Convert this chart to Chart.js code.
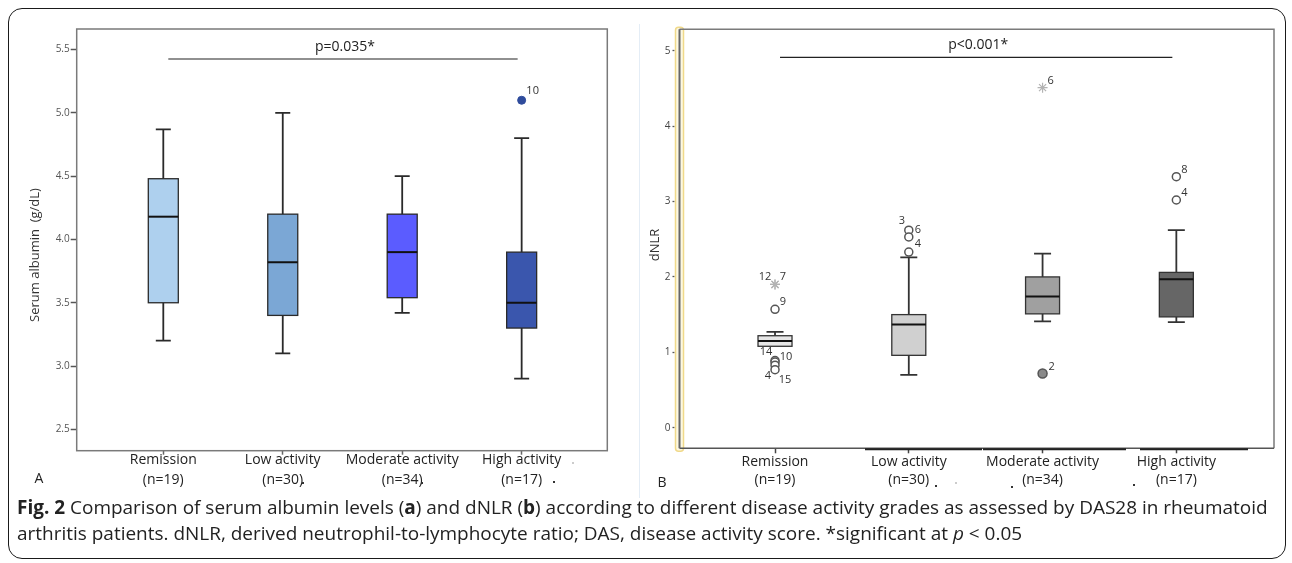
<!DOCTYPE html>
<html>
<head>
<meta charset="utf-8">
<script src="https://cdn.jsdelivr.net/npm/chart.js@4.4.0/dist/chart.umd.min.js"></script>
<style>
  html, body { margin: 0; padding: 0; background: #fff; }
  body { width: 1292px; height: 563px; position: relative; overflow: hidden; font-family: "Open Sans", sans-serif; }
  #frame { position: absolute; left: 8px; top: 8px; width: 1278px; height: 551px; border: 1.5px solid #1a1a1a; border-radius: 14px; box-sizing: border-box; }
  #divider { position: absolute; left: 639px; top: 24px; width: 1px; height: 474px; background: #e4edf6; }
  #leftWrap { position: absolute; left: 0; top: 0; width: 640px; height: 500px; }
  #rightWrap { position: absolute; left: 640px; top: 0; width: 652px; height: 500px; }
  #caption { position: absolute; left: 17px; top: 494px; color: #222; line-height: 26px; white-space: nowrap; font-size: 16px; }
  #caption span { display: inline-block; }
</style>
</head>
<body>
<div id="frame"></div>
<div id="divider"></div>
<div id="leftWrap"><canvas id="albChart" width="640" height="500"></canvas></div>
<div id="rightWrap"><canvas id="dnlrChart" width="652" height="500"></canvas></div>
<div id="caption">
  <div><span id="cap1"><b>Fig. 2</b> Comparison of serum albumin levels (<b>a</b>) and dNLR (<b>b</b>) according to different disease activity grades as assessed by DAS28 in rheumatoid</span></div>
  <div><span>arthritis patients. dNLR, derived neutrophil-to-lymphocyte ratio; DAS, disease activity score. *significant at <i>p</i> &lt; 0.05</span></div>
</div>
<script>
// groups on the x axis
const categories = ['Remission', 'Low activity', 'Moderate activity', 'High activity'];
const groupSizes = ['(n=19)', '(n=30)', '(n=34)', '(n=17)'];

// panel A: serum albumin (g/dL)
const albTicks = [2.5, 3.0, 3.5, 4.0, 4.5, 5.0, 5.5];
const albLow = [3.20, 3.10, 3.42, 2.90];
const albQ1 = [3.50, 3.40, 3.54, 3.30];
const albMedian = [4.18, 3.82, 3.90, 3.50];
const albQ3 = [4.48, 4.20, 4.20, 3.90];
const albHigh = [4.87, 5.00, 4.50, 4.80];
const albOutGroup = [4];
const albOutValue = [5.10];
const albOutId = ['10'];

// panel B: dNLR
const dnlrTicks = [0, 1, 2, 3, 4, 5];
const dnlrLow = [1.08, 0.70, 1.41, 1.40];
const dnlrQ1 = [1.08, 0.96, 1.51, 1.47];
const dnlrMedian = [1.15, 1.37, 1.74, 1.97];
const dnlrQ3 = [1.22, 1.50, 2.00, 2.06];
const dnlrHigh = [1.27, 2.26, 2.31, 2.62];
// outliers drawn as open circles
const dnlrCircleGroup = [1, 1, 1, 1, 1, 2, 2, 2, 4, 4];
const dnlrCircleValue = [1.57, 0.89, 0.87, 0.83, 0.77, 2.62, 2.53, 2.33, 3.33, 3.02];
const dnlrCircleId = ['9', '14', '10', '4', '15', '3', '6', '4', '8', '4'];
// extreme values drawn as stars
const dnlrStarGroup = [1, 1, 3];
const dnlrStarValue = [1.90, 1.90, 4.51];
const dnlrStarId = ['12', '7', '6'];
// filled outlier
const dnlrDotGroup = [3];
const dnlrDotValue = [0.72];
const dnlrDotId = ['2'];

// label offsets (px) for the case numbers, same order as the ids
const albOutOffsets = [[11, -9]];
const dnlrCircleOffsets = [[8, -7], [-9, -9], [11, -5], [-7, 11], [10, 10], [-7, -9], [9, -7], [9, -8], [8, -7], [8, -7]];
const dnlrStarOffsets = [[-10, -8], [8, -8], [8, -7]];
const dnlrDotOffsets = [[9, -7]];

Chart.defaults.font.family = '"Open Sans", sans-serif';
Chart.defaults.animation = false;
Chart.defaults.events = [];

function points(groups, values) {
  return groups.map((g, i) => ({ x: g, y: values[i] }));
}

function boxPlotPlugin(cfg) {
  return {
    id: 'boxPlot',
    beforeDatasetsDraw(chart) {
      const { ctx, chartArea: a, scales: { x, y } } = chart;
      ctx.save();
      cfg.drawFrame(ctx, a, chart);
      cfg.q1.forEach((q1, i) => {
        const cx = x.getPixelForValue(i + 1);
        const pLow = y.getPixelForValue(cfg.low[i]);
        const pQ1 = y.getPixelForValue(q1);
        const pMed = y.getPixelForValue(cfg.median[i]);
        const pQ3 = y.getPixelForValue(cfg.q3[i]);
        const pHigh = y.getPixelForValue(cfg.high[i]);
        const hb = cfg.boxWidth / 2, hc = cfg.capWidth / 2;
        ctx.strokeStyle = cfg.lineColor;
        ctx.lineWidth = cfg.whiskerWidth;
        ctx.beginPath();
        ctx.moveTo(cx, pQ3); ctx.lineTo(cx, pHigh);
        ctx.moveTo(cx - hc, pHigh); ctx.lineTo(cx + hc, pHigh);
        if (pLow - pQ1 > 0.5) {
          ctx.moveTo(cx, pQ1); ctx.lineTo(cx, pLow);
          ctx.moveTo(cx - hc, pLow); ctx.lineTo(cx + hc, pLow);
        }
        ctx.stroke();
        ctx.fillStyle = cfg.fills[i];
        ctx.fillRect(cx - hb, pQ3, 2 * hb, pQ1 - pQ3);
        ctx.lineWidth = cfg.boxBorderWidth;
        ctx.strokeStyle = cfg.lineColor;
        ctx.strokeRect(cx - hb, pQ3, 2 * hb, pQ1 - pQ3);
        ctx.lineWidth = cfg.medianWidth;
        ctx.strokeStyle = '#111';
        ctx.beginPath();
        ctx.moveTo(cx - hb, pMed); ctx.lineTo(cx + hb, pMed);
        ctx.stroke();
      });
      ctx.restore();
    },
    afterDatasetsDraw(chart) {
      const ctx = chart.ctx;
      ctx.save();
      ctx.fillStyle = '#333';
      ctx.font = '11px "Open Sans", sans-serif';
      ctx.textAlign = 'center';
      ctx.textBaseline = 'middle';
      chart.data.datasets.forEach((ds, di) => {
        const meta = chart.getDatasetMeta(di);
        (ds.ids || []).forEach((id, j) => {
          const el = meta.data[j];
          const off = ds.idOffsets[j];
          ctx.fillText(id, el.x + off[0], el.y + off[1]);
        });
      });
      ctx.restore();
    },
    afterDraw(chart) {
      const { ctx, chartArea: a, scales: { x } } = chart;
      ctx.save();
      // significance bar
      const x1 = x.getPixelForValue(1) + 5, x4 = x.getPixelForValue(4) - 4;
      ctx.strokeStyle = '#222';
      ctx.lineWidth = 1.2;
      ctx.beginPath();
      ctx.moveTo(x1, a.top + cfg.barOffset); ctx.lineTo(x4, a.top + cfg.barOffset);
      ctx.stroke();
      ctx.fillStyle = '#222';
      ctx.font = '14px "Open Sans", sans-serif';
      ctx.textAlign = 'center';
      ctx.textBaseline = 'middle';
      ctx.fillText(cfg.pText, (x1 + x4) / 2 + 2, a.top + cfg.barOffset - 12);
      // y title
      ctx.save();
      ctx.translate(cfg.titleX, cfg.titleY);
      ctx.rotate(-Math.PI / 2);
      ctx.font = '13px "Open Sans", sans-serif';
      ctx.fillStyle = '#333';
      ctx.fillText(cfg.title, 0, 0);
      ctx.restore();
      // panel letter
      ctx.font = '14px "Open Sans", sans-serif';
      ctx.fillStyle = '#222';
      ctx.fillText(cfg.letter, cfg.letterX, cfg.letterY);
      // scan specks
      cfg.specks.forEach(s => {
        ctx.fillStyle = s[2];
        ctx.fillRect(s[0] - 1, s[1] - 1, 2, 2);
      });
      ctx.restore();
    }
  };
}

function xLabel(v) {
  const i = Math.round(v) - 1;
  return [categories[i], groupSizes[i]];
}

// ---------- panel A ----------
new Chart(document.getElementById('albChart'), {
  type: 'scatter',
  data: {
    datasets: [{
      data: points(albOutGroup, albOutValue),
      ids: albOutId,
      idOffsets: albOutOffsets,
      pointStyle: 'circle',
      pointRadius: 4,
      backgroundColor: '#2f4c9c',
      borderColor: '#2f4c9c',
      borderWidth: 1
    }]
  },
  options: {
    responsive: false,
    layout: { padding: { top: 29, right: 32.7, left: 0, bottom: 0 } },
    plugins: { legend: { display: false }, tooltip: { enabled: false } },
    scales: {
      x: {
        type: 'linear', min: 0.275, max: 4.717,
        afterBuildTicks: s => { s.ticks = categories.map((c, i) => ({ value: i + 1 })); },
        afterFit: s => { s.height = 49.3; },
        grid: { drawOnChartArea: false, tickLength: 4, tickColor: '#666', tickWidth: 1.5 },
        border: { display: false },
        ticks: { padding: -5, color: '#222', maxRotation: 0, autoSkip: false, font: { size: 14, lineHeight: '20px' }, callback: xLabel }
      },
      y: {
        min: 2.331, max: 5.663,
        afterBuildTicks: s => { s.ticks = albTicks.map(v => ({ value: v })); },
        afterFit: s => { s.width = 76.7; },
        grid: { drawOnChartArea: false, tickLength: 6, tickColor: '#555', tickWidth: 1.5 },
        border: { display: false },
        ticks: { padding: 1, color: '#555', font: { size: 10 }, callback: v => v.toFixed(1) }
      }
    }
  },
  plugins: [boxPlotPlugin({
    low: albLow, q1: albQ1, median: albMedian, q3: albQ3, high: albHigh,
    fills: ['#aed0ee', '#7ba7d5', '#5b5cff', '#3a56ad'],
    lineColor: '#2a2a2a', whiskerWidth: 1.8, boxBorderWidth: 1.3, medianWidth: 2,
    boxWidth: 30, capWidth: 15,
    pText: 'p=0.035*', barOffset: 30,
    title: 'Serum albumin  (g/dL)', titleX: 35, titleY: 255,
    letter: 'A', letterX: 39, letterY: 479,
    specks: [[303, 483, '#333'], [422, 483, '#333'], [554, 482, '#333'], [573, 463, '#ccc']],
    drawFrame(ctx, a) {
      ctx.strokeStyle = '#7a7a7a';
      ctx.lineWidth = 1.5;
      ctx.strokeRect(a.left, a.top, a.right - a.left, a.bottom - a.top);
    }
  })]
});

// ---------- panel B ----------
new Chart(document.getElementById('dnlrChart'), {
  type: 'scatter',
  data: {
    datasets: [{
      data: points(dnlrStarGroup, dnlrStarValue),
      ids: dnlrStarId,
      idOffsets: dnlrStarOffsets,
      pointStyle: 'star',
      pointRadius: 5,
      borderColor: '#b3b3b3',
      backgroundColor: '#b3b3b3',
      borderWidth: 1.2
    }, {
      data: points(dnlrCircleGroup, dnlrCircleValue),
      ids: dnlrCircleId,
      idOffsets: dnlrCircleOffsets,
      pointStyle: 'circle',
      pointRadius: 4,
      backgroundColor: '#fff',
      borderColor: '#555',
      borderWidth: 1.5
    }, {
      data: points(dnlrDotGroup, dnlrDotValue),
      ids: dnlrDotId,
      idOffsets: dnlrDotOffsets,
      pointStyle: 'circle',
      pointRadius: 4.5,
      backgroundColor: '#8a8a8a',
      borderColor: '#555',
      borderWidth: 1.5
    }]
  },
  options: {
    responsive: false,
    layout: { padding: { top: 29.3, right: 18, left: 0, bottom: 0 } },
    plugins: { legend: { display: false }, tooltip: { enabled: false } },
    scales: {
      x: {
        type: 'linear', min: 0.286, max: 4.73,
        afterBuildTicks: s => { s.ticks = categories.map((c, i) => ({ value: i + 1 })); },
        afterFit: s => { s.height = 51.7; },
        grid: { drawOnChartArea: false, tickLength: 5, tickColor: '#444', tickWidth: 1.5 },
        border: { display: false },
        ticks: { padding: 0, color: '#222', maxRotation: 0, autoSkip: false, font: { size: 14, lineHeight: '18px' }, callback: xLabel }
      },
      y: {
        min: -0.273, max: 5.284,
        afterBuildTicks: s => { s.ticks = dnlrTicks.map(v => ({ value: v })); },
        afterFit: s => { s.width = 39.5; },
        grid: { drawOnChartArea: false, tickLength: 7, tickColor: '#555', tickWidth: 1.3, tickBorderDash: [2, 2] },
        border: { display: false },
        ticks: { padding: 2, color: '#444', font: { size: 10 } }
      }
    }
  },
  plugins: [boxPlotPlugin({
    low: dnlrLow, q1: dnlrQ1, median: dnlrMedian, q3: dnlrQ3, high: dnlrHigh,
    fills: ['#e6e6e6', '#d0d0d0', '#a0a0a0', '#666666'],
    lineColor: '#333', whiskerWidth: 1.8, boxBorderWidth: 1.3, medianWidth: 2,
    boxWidth: 34, capWidth: 17,
    pText: 'p<0.001*', barOffset: 28,
    title: 'dNLR', titleX: 15, titleY: 245,
    letter: 'B', letterX: 22, letterY: 483,
    specks: [[296, 486, '#333'], [316, 483, '#ccc'], [372, 487, '#333'], [494, 485, '#333']],
    drawFrame(ctx, a) {
      // highlighted axis strip
      ctx.fillStyle = '#fdf8e2';
      ctx.strokeStyle = '#f0d98a';
      ctx.lineWidth = 1.5;
      ctx.beginPath();
      ctx.roundRect(a.left - 4, a.top - 2, 8, a.bottom - a.top + 5, 3);
      ctx.fill();
      ctx.stroke();
      ctx.strokeStyle = '#7a7a7a';
      ctx.lineWidth = 1.5;
      ctx.beginPath();
      ctx.moveTo(a.left, a.top); ctx.lineTo(a.right, a.top); ctx.lineTo(a.right, a.bottom);
      ctx.stroke();
      ctx.strokeStyle = '#555';
      ctx.beginPath();
      ctx.moveTo(a.left, a.bottom); ctx.lineTo(a.right, a.bottom);
      ctx.stroke();
      ctx.strokeStyle = '#666';
      ctx.lineWidth = 2;
      ctx.beginPath();
      ctx.moveTo(a.left, a.top); ctx.lineTo(a.left, a.bottom);
      ctx.stroke();
      // darker stretches along the bottom edge
      ctx.strokeStyle = '#222';
      ctx.lineWidth = 2;
      [[225, 342], [343, 486], [500, 608]].forEach(s => {
        ctx.beginPath();
        ctx.moveTo(s[0], a.bottom + 1); ctx.lineTo(s[1], a.bottom + 1);
        ctx.stroke();
      });
    }
  })]
});

// fit caption width to the figure
const cap = document.getElementById('caption');
const w = document.getElementById('cap1').getBoundingClientRect().width;
cap.style.fontSize = (16 * 1251 / w).toFixed(2) + 'px';
</script>
</body>
</html>
